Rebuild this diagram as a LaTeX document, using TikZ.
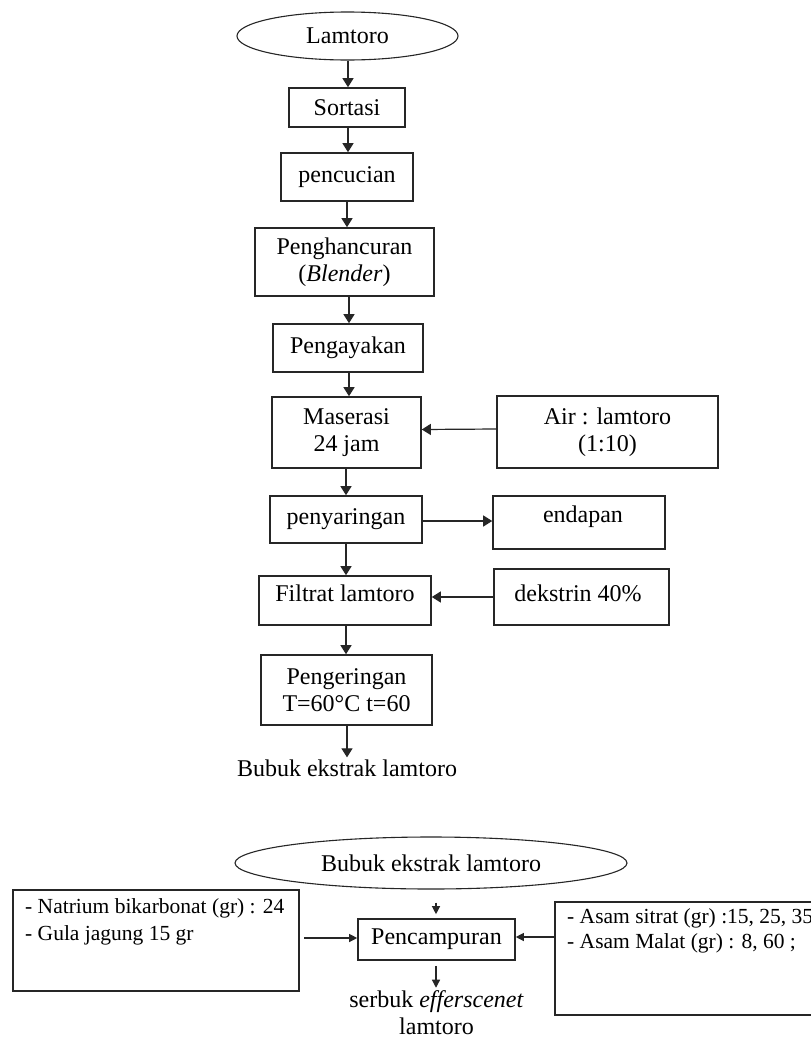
\documentclass[tikz,border=0pt]{standalone}
\usepackage{fontspec}
\setmainfont{Liberation Serif}
\usetikzlibrary{arrows.meta,shapes.geometric}
\tikzset{
  stepbox/.style={draw=black!85, line width=1.6pt, rectangle, inner sep=0pt, align=center,
    font=\fontsize{24}{27}\selectfont},
  oval/.style={draw=black!85, line width=1.1pt, ellipse, inner sep=0pt,
    font=\fontsize{24}{27}\selectfont},
  txt/.style={inner sep=0pt, align=center, font=\fontsize{24}{27}\selectfont},
  listtxt/.style={inner sep=0pt, align=left, anchor=west, font=\fontsize{21.5}{27}\selectfont},
  arr/.style={draw=black!85, line width=1.2pt, -{Triangle[length=9pt,width=11pt]}},
  sarr/.style={draw=black!85, line width=1.2pt, -{Triangle[length=8pt,width=8pt]}}
}
\begin{document}
\begin{tikzpicture}[x=1pt,y=-1pt]
\clip (0,0) rectangle (811,1039);
\fill[white] (0,0) rectangle (811,1039);
% top flow
\node[oval, minimum width=221pt, minimum height=48pt] (lamtoro) at (347.5,36) {Lamtoro};
\node[stepbox, minimum width=116pt, minimum height=39pt] (sortasi) at (347,107.5) {Sortasi};
\node[stepbox, minimum width=132pt, minimum height=48pt] (cuci) at (347,177) {pencucian};
\node[stepbox, minimum width=179pt, minimum height=68pt] (hancur) at (344.5,262) {Penghancuran\\(\textit{Blender})};
\node[stepbox, minimum width=150pt, minimum height=48pt] (ayak) at (348,348) {Pengayakan};
\node[stepbox, minimum width=149pt, minimum height=71pt] (maserasi) at (346.5,432.5) {Maserasi\\24 jam};
\node[stepbox, minimum width=221pt, minimum height=72pt] (air) at (607.5,432) {Air : lamtoro\\(1:10)};
\node[stepbox, minimum width=152pt, minimum height=47pt] (saring) at (346,519.5) {penyaringan};
\node[stepbox, minimum width=172pt, minimum height=53pt] (endapan) at (579,522.5) {};
\node[txt] (endapantxt) at (583,517) {endapan};
\node[stepbox, minimum width=172pt, minimum height=49pt] (filtrat) at (345,600.5) {};
\node[txt] (filtrattxt) at (345,593) {Filtrat lamtoro};
\node[stepbox, minimum width=175pt, minimum height=56pt] (dekstrin) at (581.5,597) {};
\node[txt] (dekstrintxt) at (578,593) {dekstrin 40\%};
\node[stepbox, minimum width=171pt, minimum height=70pt] (kering) at (346.5,690) {Pengeringan\\T=60°C t=60};
\node[txt] (bubuk) at (347,768) {Bubuk ekstrak lamtoro};

\draw[arr] (lamtoro.south -| 348,0) -- (sortasi.north -| 348,0);
\draw[arr] (sortasi.south -| 348,0) -- (cuci.north -| 348,0);
\draw[arr] (cuci.south -| 347,0) -- (hancur.north -| 347,0);
\draw[arr] (hancur.south -| 349,0) -- (ayak.north -| 349,0);
\draw[arr] (ayak.south -| 349,0) -- (maserasi.north -| 349,0);
\draw[arr] ([yshift=3pt]air.west) -- ([yshift=3pt]maserasi.east);
\draw[arr] (maserasi.south -| 346,0) -- (saring.north -| 346,0);
\draw[arr] ([yshift=-1.5pt]saring.east) -- ([yshift=-1.5pt]saring.east -| endapan.west);
\draw[arr] (saring.south -| 346,0) -- (filtrat.north -| 346,0);
\draw[arr] (dekstrin.west) -- (dekstrin.west -| filtrat.east);
\draw[arr] (filtrat.south -| 346,0) -- (kering.north -| 346,0);
\draw[arr] (kering.south -| 347,0) -- ([yshift=2pt]bubuk.north -| 347,0);

% bottom flow
\node[oval, minimum width=392pt, minimum height=52pt] (bubuk2) at (431,863) {Bubuk ekstrak lamtoro};
\node[stepbox, minimum width=286pt, minimum height=101pt] (kiri) at (156,940.5) {};
\node[listtxt] (kiri1) at (25,908) {- Natrium bikarbonat (gr) : 24};
\node[listtxt] (kiri2) at (25,935) {- Gula jagung 15 gr};
\node[stepbox, minimum width=320pt, minimum height=113pt] (kanan) at (715,958.5) {};
\node[listtxt] (kanan1) at (567,918) {- Asam sitrat (gr) :15, 25, 35};
\node[listtxt] (kanan2) at (567,943) {- Asam Malat (gr) : 8, 60 ;};
\node[stepbox, minimum width=157pt, minimum height=41pt] (campur) at (436.5,939.5) {Pencampuran};
\node[txt] (serbuk) at (436.5,1013) {serbuk \textit{efferscenet}\\lamtoro};
\coordinate (lstart) at (304,938);

\draw[sarr] ([yshift=-13pt]bubuk2.south -| 436,0) -- ([yshift=4pt]campur.north -| 436,0);
\draw[sarr] (lstart) -- (lstart -| campur.west);
\draw[sarr] (kanan.west |- 0,937) -- (campur.east |- 0,937);
\draw[sarr] ([yshift=-5pt]campur.south -| 436,0) -- ([yshift=3pt]serbuk.north -| 436,0);
\end{tikzpicture}
\end{document}
